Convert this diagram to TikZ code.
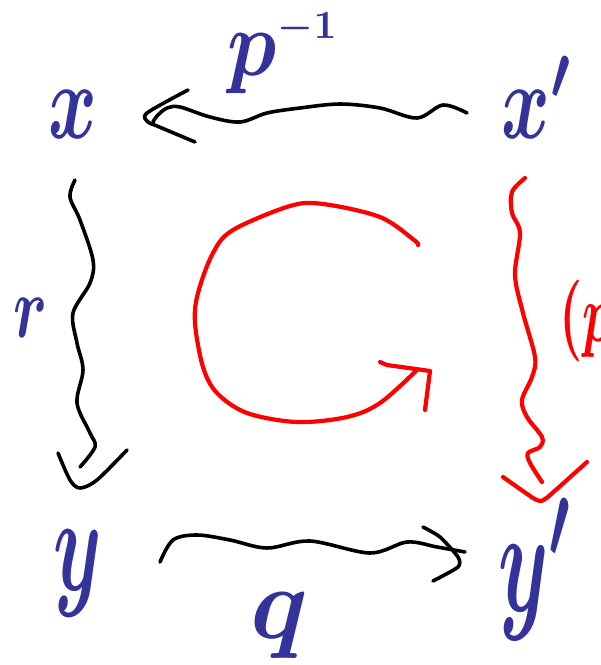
\documentclass[tikz,border=0pt]{standalone}
\usepackage{bm}
\definecolor{ink}{RGB}{51,51,153}
\definecolor{redpen}{RGB}{255,0,0}
\begin{document}
\begin{tikzpicture}[x=1pt,y=-1pt]
\tikzset{
  lbl/.style={inner sep=0pt, text=ink, anchor=base west},
  wire/.style={line width=3.6pt, line cap=round, line join=round},
  redwire/.style={line width=4.2pt, line cap=round, line join=round, draw=redpen}}
\useasboundingbox (0,0) rectangle (601,665);
\clip (0,0) rectangle (601,665);
% labels
\node[lbl, xscale=7.4, yscale=10.8] (nx) at (47,138) {$\bm{x}$};
\node[lbl, xscale=7.4, yscale=10.8] (nxp) at (500,138) {$\bm{x'}$};
\node[lbl, xscale=7.7, yscale=13.6] (ny) at (52,590) {$\bm{y}$};
\node[lbl, xscale=8.0, yscale=14.9] (nyp) at (497,611) {$\bm{y'}$};
\node[lbl, xscale=8.2, yscale=9.4] (np) at (226,75) {$\bm{p}$};
\node[lbl, xscale=4.0, yscale=4.0] (npe) at (277,38) {$\bm{-1}$};
\node[lbl, xscale=10, yscale=10.3] (nq) at (248,638) {$\bm{q}$};
\node[lbl, xscale=6.1, yscale=8.8] (nr) at (12,337) {$\bm{r}$};
\node[lbl, text=redpen, xscale=5.2, yscale=8.2] (nrp) at (558,341) {$\bm{(p}$};
% top: x' -> x
\coordinate (tS) at (467,113);
\coordinate (tE) at (153,122);
\draw[wire] plot[smooth, tension=0.55] coordinates {(tS) (443,105) (417,118) (380,108) (340,104) (300,108) (267,113) (240,122) (210,117) (180,107) (167,108) (157,116) (tE)};
\draw[wire] plot[smooth, tension=0.5] coordinates {(188,90) (147,113) (148,122) (157,126) (195,142)};
% left: x -> y
\coordinate (lS) at (75,180);
\coordinate (lE) at (80,467);
\draw[wire] plot[smooth, tension=0.55] coordinates {(lS) (70,197) (80,220) (93,260) (90,283) (73,313) (77,343) (83,370) (77,403) (90,433) (95,447) (lE)};
\draw[wire] plot[smooth, tension=0.5] coordinates {(58,453) (70,480) (80,488) (97,480) (127,450)};
% bottom: y -> y'
\coordinate (bS) at (160,562);
\coordinate (bE) at (465,552);
\draw[wire] plot[smooth, tension=0.55] coordinates {(bS) (173,540) (197,535) (230,540) (267,548) (310,541) (370,553) (407,542) (437,547) (bE)};
\draw[wire] plot[smooth, tension=0.4] coordinates {(423,527) (440,537) (458,557) (458,567) (433,581)};
% right (red): x' -> y'
\coordinate (rS) at (525,178);
\coordinate (rE) at (542,482);
\draw[redwire] plot[smooth, tension=0.55] coordinates {(rS) (512,192) (512,213) (520,233) (515,275) (523,313) (535,357) (532,377) (522,400) (527,417) (542,437) (540,447) (528,453) (530,463) (rE)};
\draw[redwire] plot[smooth, tension=0.3] coordinates {(503,477) (533,498) (541,501) (549,496) (587,462)};
% circular arrow (red)
\coordinate (cS) at (418,245);
\coordinate (cE) at (417,370);
\draw[redwire] plot[smooth, tension=0.55] coordinates {(cS) (414,240) (380,217) (323,204) (290,206) (233,230) (213,253) (198,293) (195,323) (203,367) (217,393) (247,413) (297,422) (347,417) (380,403) (cE)};
\draw[redwire] (380,362) -- (387,365) -- (430,371) -- (425,410);
\end{tikzpicture}
\end{document}
